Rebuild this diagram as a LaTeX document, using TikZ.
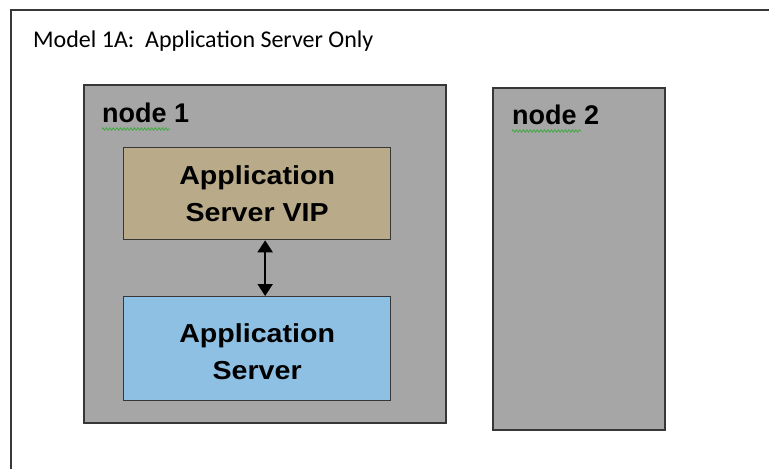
\documentclass[tikz,border=0pt]{standalone}
\usepackage{fontspec}
\setmainfont{Liberation Sans}
\newfontfamily\titlefont{Carlito}
\newfontfamily\boxfont[FakeStretch=1.1]{Liberation Sans}
\usetikzlibrary{arrows.meta,decorations.pathmorphing}
\definecolor{hostgray}{RGB}{166,166,166}
\definecolor{viptan}{RGB}{185,171,138}
\definecolor{srvblue}{RGB}{142,192,227}
\definecolor{framegray}{RGB}{55,55,55}
\definecolor{spellgreen}{RGB}{60,170,60}
\tikzset{
  host/.style={draw=framegray, line width=1.6pt, fill=hostgray, inner sep=0pt, anchor=north west},
  appbox/.style={draw=framegray, line width=1.3pt, inner sep=0pt, anchor=north west, minimum width=267pt},
  apptext/.style={align=center, inner sep=0pt, font=\boxfont\fontsize{26}{37}\selectfont\bfseries},
  hostlabel/.style={anchor=base west, inner sep=0pt, font=\fontsize{27}{30}\selectfont\bfseries},
  spell/.style={draw=spellgreen, line width=0.8pt, decorate, decoration={zigzag, amplitude=1.2pt, segment length=3.5pt}}
}
\begin{document}
\begin{tikzpicture}[x=1pt, y=-1pt]
  \useasboundingbox (0,0) rectangle (769,469);
  % page frame, cut off at right and bottom
  \draw[framegray, line width=2pt] (11,469) -- (11,10) -- (769,10);
  \node[anchor=base west, inner sep=0pt, font=\titlefont\fontsize{24}{28}\selectfont] (title) at (33,47) {Model 1A:\ \ Application Server Only};

  % hosts
  \node[host, minimum width=362pt, minimum height=338pt] (node1) at (83,84) {};
  \node[host, minimum width=172pt, minimum height=342pt] (node2) at (492,87) {};
  \node[hostlabel] (lbl1) at (102,122) {node 1};
  \node[hostlabel] (lbl2) at (512,124) {node 2};
  \draw[spell] (102,129) -- (170,129);
  \draw[spell] (512,131) -- (581,131);

  % application boxes
  \node[appbox, fill=viptan, minimum height=92pt] (vip) at (123,147) {};
  \node[apptext] (viptext) at (vip.center) {Application\\Server VIP};
  \node[appbox, fill=srvblue, minimum height=104pt] (srv) at (123,296) {};
  \node[apptext] (srvtext) at ([yshift=-3pt]srv.center) {Application\\Server};

  \draw[line width=2pt, {Triangle[length=12pt,width=15pt]}-{Triangle[length=12pt,width=15pt]}]
    ([xshift=8pt]vip.south) -- ([xshift=8pt]srv.north);
\end{tikzpicture}
\end{document}
